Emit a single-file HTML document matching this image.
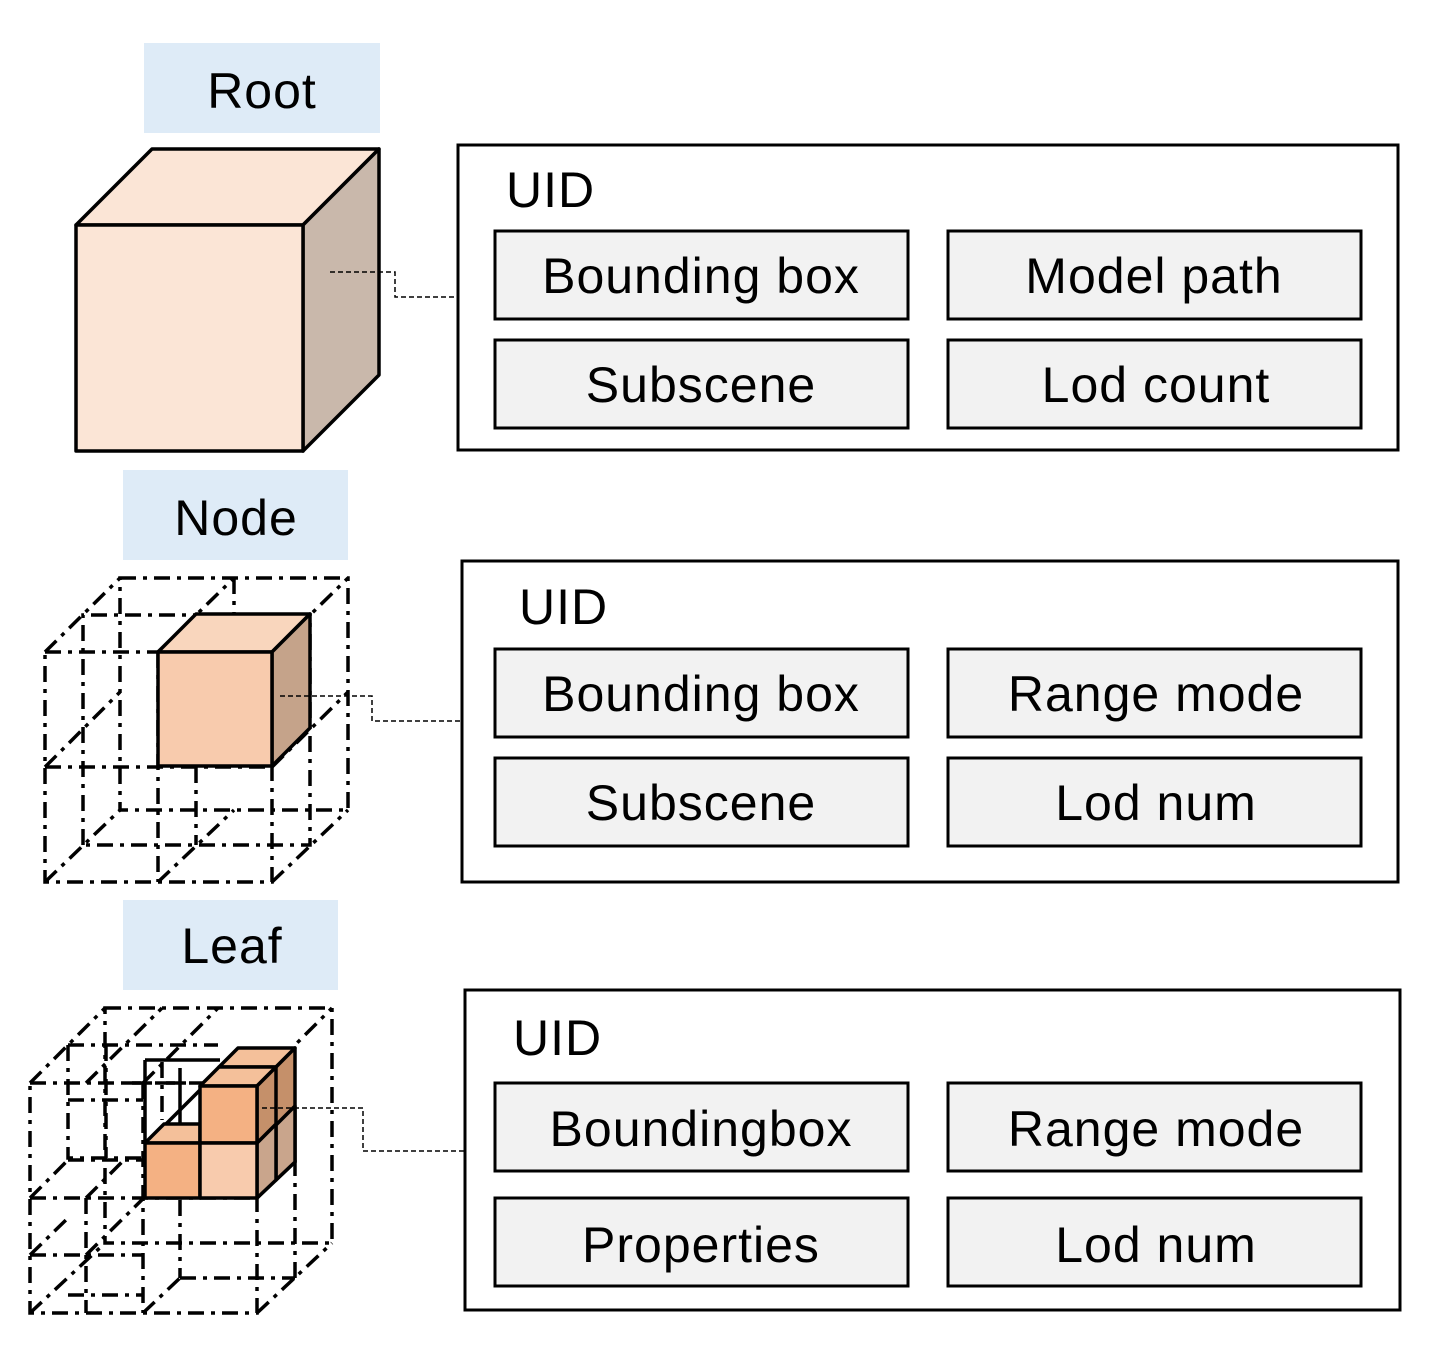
<!DOCTYPE html>
<html><head><meta charset="utf-8"><style>
html,body{margin:0;padding:0;background:#fff}
svg{display:block}
text{font-family:"Liberation Sans",Arial,sans-serif;font-size:50px;letter-spacing:1px;fill:#000}
.b{fill:#f2f2f2;stroke:#000;stroke-width:3}
.p{fill:#fff;stroke:#000;stroke-width:3}
.dd{fill:none;stroke:#000;stroke-width:3.5;stroke-dasharray:16,7,4,7}
.cn{fill:none;stroke:#000;stroke-width:1.5;stroke-dasharray:5,3}
.s{stroke:#000;stroke-width:3.5;stroke-linejoin:round}
</style></head><body>
<svg width="1441" height="1364" viewBox="0 0 1441 1364">
<!-- ROOT -->
<rect x="144" y="43" width="236" height="90" fill="#deebf7"/>
<text x="262" y="108" text-anchor="middle">Root</text>
<polygon class="s" points="76,225 152,149 379,149 303,225" fill="#fbe5d6"/>
<polygon class="s" points="303,225 379,149 379,375 303,451" fill="#c9b8ab"/>
<rect class="s" x="76" y="225" width="227" height="226" fill="#fbe5d6"/>
<polyline class="cn" points="330,272 395,272 395,297 458,297"/>
<rect class="p" x="458" y="145" width="940" height="305"/>
<text x="506" y="207">UID</text>
<rect class="b" x="495" y="231" width="413" height="88"/><text x="701" y="293" text-anchor="middle">Bounding box</text>
<rect class="b" x="948" y="231" width="413" height="88"/><text x="1154" y="293" text-anchor="middle">Model path</text>
<rect class="b" x="495" y="340" width="413" height="88"/><text x="701" y="402" text-anchor="middle">Subscene</text>
<rect class="b" x="948" y="340" width="413" height="88"/><text x="1156" y="402" text-anchor="middle">Lod count</text>

<!-- NODE -->
<rect x="123" y="470" width="225" height="90" fill="#deebf7"/>
<text x="236" y="535" text-anchor="middle">Node</text>
<g class="dd">
<rect x="120" y="578" width="228" height="232"/>
<rect x="45" y="652" width="227" height="230"/>
<line x1="45" y1="767" x2="272" y2="767"/>
<line x1="158" y1="652" x2="158" y2="882"/>
<polyline points="83,845 83,615 310,615 310,845 83,845"/>
<line x1="234" y1="578" x2="234" y2="615"/>
<line x1="196" y1="767" x2="196" y2="845"/>
<line x1="45" y1="652" x2="120" y2="578"/>
<line x1="158" y1="652" x2="234" y2="578"/>
<line x1="272" y1="652" x2="348" y2="578"/>
<line x1="45" y1="767" x2="120" y2="692"/>
<line x1="272" y1="767" x2="348" y2="692"/>
<line x1="45" y1="882" x2="120" y2="810"/>
<line x1="158" y1="882" x2="234" y2="810"/>
<line x1="272" y1="882" x2="348" y2="810"/>
</g>
<polygon class="s" points="158,652 196,614 310,614 272,652" fill="#f9d6bd"/>
<polygon class="s" points="272,652 310,614 310,728 272,766" fill="#c5a38a"/>
<rect class="s" x="158" y="652" width="114" height="114" fill="#f8cbad"/>
<polyline class="cn" points="280,696 372,696 372,721 462,721"/>
<rect class="p" x="462" y="561" width="936" height="321"/>
<text x="519" y="624">UID</text>
<rect class="b" x="495" y="649" width="413" height="88"/><text x="701" y="711" text-anchor="middle">Bounding box</text>
<rect class="b" x="948" y="649" width="413" height="88"/><text x="1156" y="711" text-anchor="middle">Range mode</text>
<rect class="b" x="495" y="758" width="413" height="88"/><text x="701" y="820" text-anchor="middle">Subscene</text>
<rect class="b" x="948" y="758" width="413" height="88"/><text x="1156" y="820" text-anchor="middle">Lod num</text>

<!-- LEAF -->
<rect x="123" y="900" width="215" height="90" fill="#deebf7"/>
<text x="232" y="963" text-anchor="middle">Leaf</text>
<g class="dd">
<rect x="105" y="1008" width="227" height="235"/>
<rect x="30" y="1083" width="227" height="230"/>
<line x1="30" y1="1083" x2="105" y2="1008"/>
<line x1="257" y1="1083" x2="332" y2="1008"/>
<line x1="30" y1="1313" x2="105" y2="1243"/>
<line x1="257" y1="1313" x2="332" y2="1243"/>
<line x1="30" y1="1198" x2="257" y2="1198"/>
<line x1="143" y1="1083" x2="143" y2="1313"/>
<line x1="143" y1="1083" x2="218" y2="1008"/>
<polyline points="68,1045 218,1045"/>
<polyline points="68,1045 68,1158 143,1158"/>
<line x1="106" y1="1045" x2="106" y2="1158"/>
<line x1="68" y1="1100" x2="143" y2="1100"/>
<line x1="86" y1="1083" x2="162" y2="1008"/>
<line x1="30" y1="1255" x2="143" y2="1255"/>
<line x1="86" y1="1198" x2="86" y2="1313"/>
<line x1="68" y1="1160" x2="143" y2="1160"/>
<line x1="30" y1="1198" x2="68" y2="1160"/>
<line x1="86" y1="1198" x2="124" y2="1160"/>
<line x1="30" y1="1255" x2="68" y2="1218"/>
<line x1="86" y1="1255" x2="162" y2="1180"/>
<line x1="68" y1="1295" x2="143" y2="1295"/>
<line x1="180" y1="1200" x2="180" y2="1278"/>
<line x1="180" y1="1278" x2="295" y2="1278"/>
<line x1="295" y1="1160" x2="295" y2="1278"/>
<line x1="143" y1="1313" x2="180" y2="1278"/>
<line x1="257" y1="1198" x2="295" y2="1160"/>
<line x1="162" y1="1062" x2="162" y2="1120"/>
<line x1="125" y1="1083" x2="200" y2="1083"/>
</g>
<g class="s">
<line x1="145" y1="1143" x2="145" y2="1060"/>
<line x1="145" y1="1060" x2="220" y2="1060"/>
<line x1="165" y1="1125" x2="240" y2="1050"/>
<line x1="180" y1="1068" x2="180" y2="1143"/>
</g>
<polygon class="s" points="219,1067 238,1048 295,1048 276,1067" fill="#f4c09a"/>
<polygon class="s" points="276,1067 295,1048 295,1162 257,1198 257,1086 276,1067" fill="#c5906a"/>
<polygon class="s" points="276,1125 295,1106 295,1162 276,1180" fill="#c9a58c"/>
<polygon class="s" points="257,1143 276,1124 276,1180 257,1198" fill="#c9a58c"/>
<polygon class="s" points="200,1086 219,1067 276,1067 257,1086" fill="#f4c09a"/>
<polygon class="s" points="257,1086 276,1067 276,1124 257,1143" fill="#c5906a"/>
<polygon class="s" points="145,1143 164,1124 200,1124 200,1143" fill="#f4c09a"/>
<rect class="s" x="200" y="1086" width="57" height="57" fill="#f4b183"/>
<rect class="s" x="145" y="1143" width="55" height="55" fill="#f4b183"/>
<rect class="s" x="200" y="1143" width="57" height="55" fill="#f8cbad"/>
<polyline class="cn" points="262,1108 363,1108 363,1151 465,1151"/>
<rect class="p" x="465" y="990" width="935" height="320"/>
<text x="513" y="1055">UID</text>
<rect class="b" x="495" y="1083" width="413" height="88"/><text x="701" y="1146" text-anchor="middle">Boundingbox</text>
<rect class="b" x="948" y="1083" width="413" height="88"/><text x="1156" y="1146" text-anchor="middle">Range mode</text>
<rect class="b" x="495" y="1198" width="413" height="88"/><text x="701" y="1262" text-anchor="middle">Properties</text>
<rect class="b" x="948" y="1198" width="413" height="88"/><text x="1156" y="1262" text-anchor="middle">Lod num</text>
</svg>
</body></html>
